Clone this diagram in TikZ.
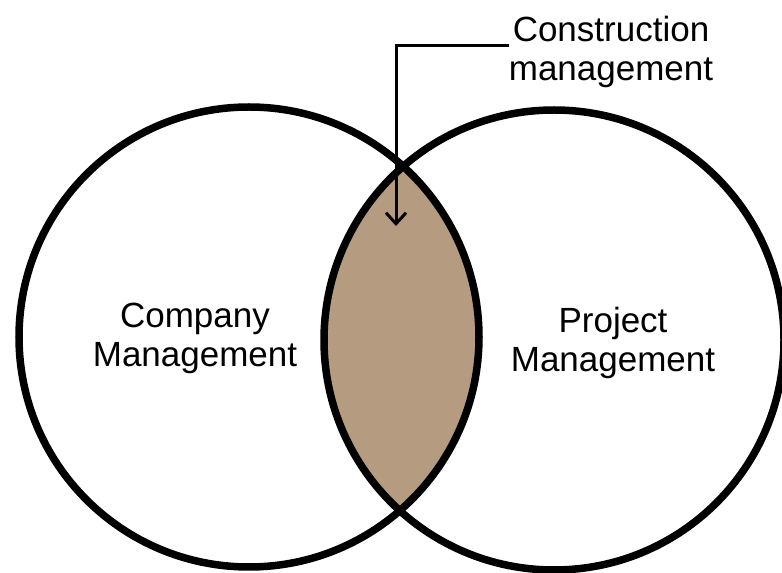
\documentclass[tikz,border=0pt]{standalone}
\usepackage{fontspec}
\setmainfont{Liberation Sans}
\usetikzlibrary{arrows.meta}
\definecolor{lensbrown}{RGB}{181,155,127}
\tikzset{
  label text/.style={align=center,inner sep=0pt,font=\fontsize{35}{39}\selectfont},
  ring/.style={line width=7.5pt},
}
\begin{document}
\begin{tikzpicture}[x=1pt,y=1pt]
\useasboundingbox (0,0) rectangle (782,573);
% shaded overlap
\begin{scope}
  \clip (249,236) circle(230);
  \fill[lensbrown] (554,233) circle(230);
\end{scope}
\draw[ring] (249,236) circle(230);
\draw[ring] (554,233) circle(230);

\node[label text] (company) at (195,235) {Company\\Management};
\node[label text] (project) at (613,230) {Project\\Management};
\node[label text] (constr) at (611,521) {Construction\\management};

\coordinate (tip) at (396,347);
\draw[line width=3pt,-{Straight Barb[length=11pt,width=20pt,line width=3pt]}]
  ([yshift=6pt]constr.west) -| (tip);
\end{tikzpicture}
\end{document}
